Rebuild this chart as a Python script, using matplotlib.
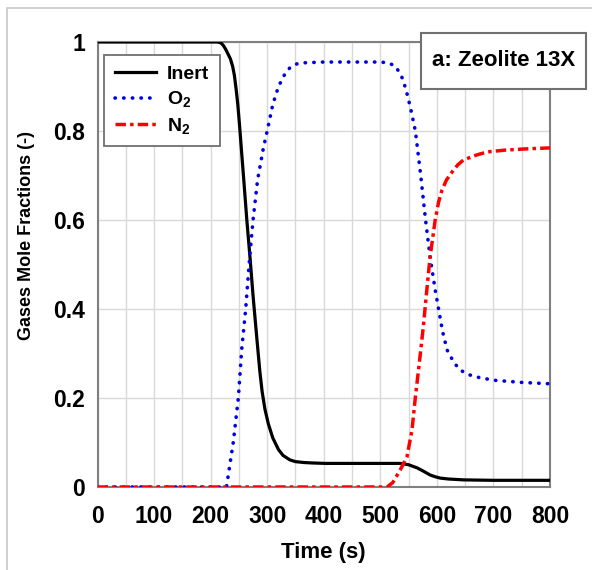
import matplotlib
matplotlib.use("Agg")
import matplotlib.pyplot as plt
from matplotlib.patches import Rectangle

# values
t_inert = [0, 212, 218, 222, 226, 230, 235, 239, 242, 245, 248, 251, 254, 258,
           264, 270, 275, 282, 287, 291, 296, 302, 310, 320, 328, 340, 350, 365,
           380, 403, 450, 500, 535, 550, 565, 577, 588, 597, 606, 620, 647, 700,
           800]
inert = [1, 1, 0.998, 0.993, 0.985, 0.975, 0.962, 0.945, 0.925, 0.895, 0.86,
         0.815, 0.765, 0.70, 0.60, 0.51, 0.43, 0.33, 0.26, 0.215, 0.175, 0.142,
         0.11, 0.084, 0.071, 0.061, 0.057, 0.055, 0.054, 0.053, 0.053, 0.053,
         0.053, 0.05, 0.043, 0.035, 0.027, 0.023, 0.02, 0.018, 0.016, 0.015,
         0.015]

t_o2 = [0, 228, 234, 240, 249, 255, 262, 268, 275, 283, 293, 300, 310, 320, 330,
        340, 350, 360, 400, 500, 515, 527, 537, 545, 553, 562, 571, 580, 588,
        597, 603, 610, 618, 630, 641, 655, 671, 700, 750, 800]
o2 = [0, 0, 0.05, 0.10, 0.20, 0.31, 0.40, 0.50, 0.60, 0.69, 0.76, 0.80, 0.86,
      0.90, 0.925, 0.942, 0.95, 0.953, 0.955, 0.955, 0.953, 0.945, 0.925, 0.895,
      0.854, 0.80, 0.705, 0.60, 0.517, 0.443, 0.40, 0.35, 0.308, 0.28, 0.263,
      0.253, 0.247, 0.24, 0.235, 0.232]

t_n2 = [0, 512, 522, 535, 547, 556, 562, 569, 576, 582, 588, 597, 603, 609, 617,
        627, 637, 647, 670, 689, 720, 760, 800]
n2 = [0, 0, 0.01, 0.038, 0.067, 0.128, 0.202, 0.279, 0.36, 0.44, 0.517, 0.60,
      0.64, 0.667, 0.69, 0.708, 0.724, 0.735, 0.746, 0.753, 0.757, 0.76, 0.762]

x_ticks = [0, 100, 200, 300, 400, 500, 600, 700, 800]
y_ticks = [0, 0.2, 0.4, 0.6, 0.8, 1.0]
y_tick_labels = ["0", "0.2", "0.4", "0.6", "0.8", "1"]

plt.rcParams["font.family"] = ["Liberation Sans", "DejaVu Sans"]
plt.rcParams["font.weight"] = "bold"
plt.rcParams["mathtext.fontset"] = "custom"
plt.rcParams["mathtext.rm"] = "Liberation Sans:bold"
plt.rcParams["mathtext.default"] = "rm"

W, H = 592, 570
fig = plt.figure(figsize=(W / 100, H / 100), dpi=100)
ax = fig.add_axes([97.5 / W, 1 - 487 / H, 452.5 / W, 445 / H])

# light frame around the picture
fig.patches.append(Rectangle((7 / W, -0.01), 1.0, 1 - 8 / H + 0.01,
                             transform=fig.transFigure, fill=False,
                             edgecolor="#c8c8c8", lw=1.2))

ax.plot(t_inert, inert, color="black", lw=2.3, label="Inert", zorder=3)
ax.plot(t_o2, o2, color="#0000e6", lw=2.6, linestyle=(0, (0.1, 2.3)),
        dash_capstyle="round", label="O$_2$", zorder=3)
ax.plot(t_n2, n2, color="#ff0000", lw=2.5, linestyle=(0, (3, 1.2, 1, 1.2)),
        label="N$_2$", zorder=3)

ax.set_xlim(0, 800)
ax.set_ylim(0, 1)
ax.set_xticks(x_ticks)
ax.set_xticks(range(50, 800, 100), minor=True)
ax.set_yticks(y_ticks)
ax.set_yticklabels(y_tick_labels)
ax.grid(True, which="both", axis="x", color="#d9d9d9", lw=1)
ax.grid(True, which="major", axis="y", color="#d9d9d9", lw=1)
ax.set_axisbelow(True)
ax.tick_params(which="both", length=0, labelsize=16.5)
ax.tick_params(axis="x", pad=13)
ax.tick_params(axis="y", pad=9)
for s in ax.spines.values():
    s.set_color("#808080")
    s.set_linewidth(1.5)

ax.set_xlabel("Time (s)", fontsize=16, fontweight="bold", labelpad=10)
fig.text(27 / W, 1 - 236 / H, "Gases Mole Fractions (-)", rotation=90,
         ha="center", va="center", fontsize=13, fontweight="bold")

leg = ax.legend(loc="upper left", bbox_to_anchor=(0.0144, 0.971),
                borderaxespad=0, fontsize=14, handlelength=2.1,
                handletextpad=0.6, labelspacing=0.32, fancybox=False,
                framealpha=1, edgecolor="#707070", borderpad=0.55)
leg.get_frame().set_linewidth(1.3)

# title box
fig.patches.append(Rectangle((421 / W, 1 - 89 / H), 165 / W, 56 / H,
                             transform=fig.transFigure, facecolor="white",
                             edgecolor="#707070", lw=1.5, zorder=5))
fig.text(503.5 / W, 1 - 61 / H, "a: Zeolite 13X", ha="center", va="center",
         fontsize=16, fontweight="bold", zorder=6)

fig.savefig("out.png", dpi=100)
